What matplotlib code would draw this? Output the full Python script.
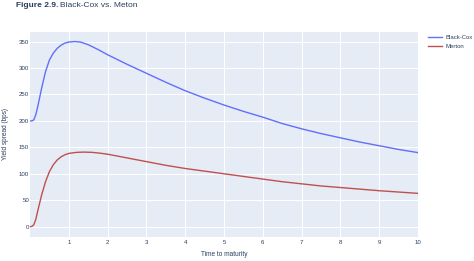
import matplotlib
matplotlib.use("Agg")
import matplotlib.pyplot as plt

plt.rcParams['font.family'] = ['Liberation Sans', 'DejaVu Sans']

t_bc = [0, 0.05, 0.1, 0.15, 0.2, 0.3, 0.4, 0.5, 0.6, 0.7, 0.8, 0.9, 1.0, 1.15, 1.3, 1.5, 1.75,
        2.0, 2.5, 3.0, 3.5, 4.0, 4.5, 5.0, 5.5, 6.0, 6.5, 7.0, 7.5, 8.0, 8.5, 9.0, 9.5, 10]
black_cox = [200, 200, 202, 212, 227, 262, 293, 315, 328, 337, 343, 347, 349, 350, 349, 344, 335,
             325, 307, 290, 273, 257, 243, 230, 218, 207, 195, 185, 176, 168, 160, 153, 146, 140]

t_m = [0, 0.05, 0.1, 0.15, 0.2, 0.3, 0.4, 0.5, 0.6, 0.7, 0.8, 0.9, 1.0, 1.2, 1.4, 1.6, 1.8,
       2.0, 2.5, 3.0, 3.5, 4.0, 4.5, 5.0, 5.5, 6.0, 6.5, 7.0, 7.5, 8.0, 8.5, 9.0, 9.5, 10]
merton = [0, 0.5, 4, 14, 30, 60, 85, 104, 117, 126, 132, 136, 138.5, 140.5, 141, 140.5, 139,
          137, 130, 123, 116, 110, 105, 100, 95, 90, 85, 81, 77, 74, 71, 68, 65.5, 63]

x_ticks = [1, 2, 3, 4, 5, 6, 7, 8, 9, 10]
y_ticks = [0, 50, 100, 150, 200, 250, 300, 350]

txt = '#2a3f5f'
W, H = 474, 261
fig = plt.figure(figsize=(W/100, H/100), dpi=100)
ax = fig.add_axes([30/W, 1-237/H, 388/W, 205/H])
ax.set_facecolor('#E5ECF6')
ax.plot(t_bc, black_cox, color='#636efa', lw=1.0, label='Black-Cox')
ax.plot(t_m, merton, color='#c0504d', lw=1.0, label='Merton')
ax.set_xlim(0, 10)
ax.set_ylim(-19.5, 368)
ax.set_xticks(x_ticks)
ax.set_yticks(y_ticks)
ax.grid(True, color='white', lw=0.7)
ax.set_axisbelow(True)
for s in ax.spines.values():
    s.set_visible(False)
ax.tick_params(length=0, labelsize=4.4, colors=txt)
ax.tick_params(axis='x', pad=2.2)
ax.tick_params(axis='y', pad=0.6)
fig.text(224/W, 1-255/H, 'Time to maturity', fontsize=4.7, color=txt, ha='center', va='center')
fig.text(6/W, 1-134/H, 'Yield spread (bps)', fontsize=4.7, color=txt, ha='center', va='center',
         rotation=90)
leg = fig.legend(loc='upper left', bbox_to_anchor=(428/W, 1-35/H), frameon=False, fontsize=4.3,
                 handlelength=2.35, handletextpad=0.5, labelspacing=0.55, borderpad=0,
                 borderaxespad=0)
for tx in leg.get_texts():
    tx.set_color(txt)
t1 = fig.text(16/W, 1-5.5/H, 'Figure 2.9.', fontsize=6, fontweight='bold', color=txt, va='center')
fig.canvas.draw()
bb = t1.get_window_extent()
fig.text((bb.x1 + 2)/W, 1-5.5/H, 'Black-Cox vs. Meton', fontsize=6, color=txt, va='center')
fig.savefig('out.png', dpi=100)
